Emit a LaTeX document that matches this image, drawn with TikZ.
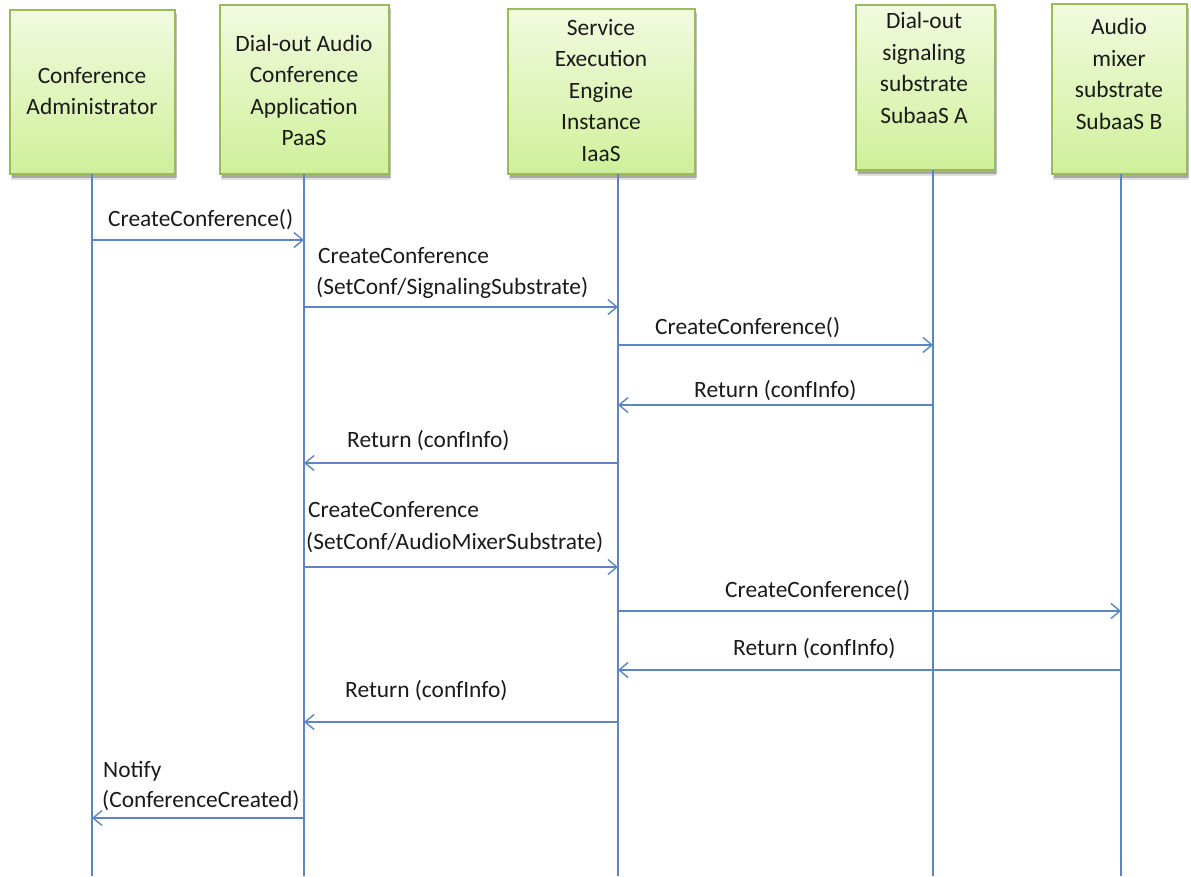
\documentclass[tikz,border=0pt]{standalone}
\usepackage{fontspec}
\setmainfont{Carlito}
\usetikzlibrary{arrows.meta,shadows}
\definecolor{lineblue}{HTML}{5B86C2}
\definecolor{boxborder}{HTML}{9BBB59}
\definecolor{boxtop}{HTML}{F2FADF}
\definecolor{boxbot}{HTML}{CFF09A}
\definecolor{txt}{HTML}{1A1A1A}
\tikzset{
  actor/.style={draw=boxborder, line width=1.5pt, top color=boxtop, bottom color=boxbot,
    drop shadow={shadow xshift=1pt, shadow yshift=-6pt, opacity=0.12, fill=black},
    drop shadow={shadow xshift=2pt, shadow yshift=-4pt, opacity=0.25, fill=black},
    inner sep=0pt},
  boxtext/.style={align=center, text=txt, inner sep=0pt, font=\fontsize{23.4}{31.5}\selectfont},
  life/.style={draw=lineblue, line width=1.4pt},
  msg/.style={draw=lineblue, line width=1.4pt, -{Straight Barb[length=9pt,width=15pt,line width=1.4pt]}},
  lbl/.style={anchor=west, align=left, text=txt, inner sep=0pt, font=\fontsize{23.4}{31.5}\selectfont},
}
\begin{document}
\begin{tikzpicture}[x=1pt,y=-1pt]
\useasboundingbox (0,0) rectangle (1191,876);
% boxes
\node[actor, minimum width=165pt, minimum height=164pt] (bA) at (92.5,92) {};
\node[actor, minimum width=169pt, minimum height=169pt] (bB) at (304.5,89.5) {};
\node[actor, minimum width=187pt, minimum height=165pt] (bC) at (601.5,91.5) {};
\node[actor, minimum width=139pt, minimum height=165pt] (bD) at (925.5,87.5) {};
\node[actor, minimum width=135pt, minimum height=170pt] (bE) at (1119.5,89) {};
\node[boxtext] (tA) at (92,91) {Conference\\Administrator};
\node[boxtext] (tB) at (304,90.5) {Dial-out Audio\\Conference\\Application\\PaaS};
\node[boxtext] (tC) at (601,90.5) {Service\\Execution\\Engine\\Instance\\IaaS};
\node[boxtext] (tD) at (924,68) {Dial-out\\signaling\\substrate\\SubaaS A};
\node[boxtext] (tE) at (1119,74) {Audio\\mixer\\substrate\\SubaaS B};
% lifelines
\coordinate (lA) at (92,174);
\coordinate (lB) at (304,174);
\coordinate (lC) at (618,174);
\coordinate (lD) at (933,170);
\coordinate (lE) at (1121,174);
\foreach \l in {lA,lB,lC,lD,lE} \draw[life] (\l) -- (\l |- 0,876);
% messages
\draw[msg] (lA |- 0,240) -- (lB |- 0,240);
\node[lbl] (m1) at (108,220) {CreateConference()};
\draw[msg] (lB |- 0,307) -- (lC |- 0,307);
\node[lbl] (m2) at (316,273) {\hspace*{2pt}CreateConference\\(SetConf/SignalingSubstrate)};
\draw[msg] (lC |- 0,345) -- (lD |- 0,345);
\node[lbl] (m3) at (655,328) {CreateConference()};
\draw[msg] (lD |- 0,405) -- (lC |- 0,405);
\node[lbl] (m4) at (694,391) {Return (confInfo)};
\draw[msg] (lC |- 0,463) -- (lB |- 0,463);
\node[lbl] (m5) at (347,441) {Return (confInfo)};
\draw[msg] (lB |- 0,567) -- (lC |- 0,567);
\node[lbl] (m6) at (306,527) {\hspace*{2pt}CreateConference\\(SetConf/AudioMixerSubstrate)};
\draw[msg] (lC |- 0,611) -- (lE |- 0,611);
\node[lbl] (m7) at (725,591) {CreateConference()};
\draw[msg] (lE |- 0,670) -- (lC |- 0,670);
\node[lbl] (m8) at (733,649) {Return (confInfo)};
\draw[msg] (lC |- 0,722) -- (lB |- 0,722);
\node[lbl] (m9) at (345,691) {Return (confInfo)};
\draw[msg] (lB |- 0,818) -- (lA |- 0,818);
\node[lbl, font=\fontsize{23.4}{30}\selectfont] (m10) at (102,786) {\hspace*{1pt}Notify\\(ConferenceCreated)};
\end{tikzpicture}
\end{document}
